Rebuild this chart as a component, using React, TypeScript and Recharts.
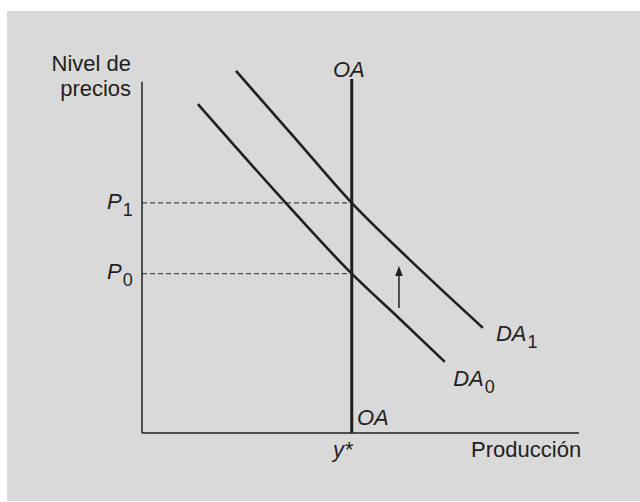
import { ComposedChart, Line, XAxis, YAxis, ReferenceLine, ReferenceDot } from "recharts";

// demanda agregada antes y después del desplazamiento (producción, nivel de precios)
const da0 = [
  { x: 12.8, y: 92.9 },
  { x: 30.4, y: 68.4 },
  { x: 48, y: 45 },
  { x: 59, y: 32.2 },
  { x: 69.3, y: 20.1 },
];
const da1 = [
  { x: 21.5, y: 102.3 },
  { x: 34.8, y: 83.6 },
  { x: 48, y: 65 },
  { x: 61.3, y: 48.9 },
  { x: 78, y: 29.7 },
];

const yStar = 48;
const oaTop = 100;
const yAxisTop = 99.2;
const priceLevels = [
  { name: "P", sub: "0", y: 45 },
  { name: "P", sub: "1", y: 65 },
];
const arrowFrom = { x: 58.8, y: 35.3 };
const arrowTo = { x: 58.8, y: 47.2 };

type Tag = {
  lines: string[];
  sub?: string;
  x: number;
  y: number;
  anchor: "start" | "middle" | "end";
  italic: boolean;
};

const tags: Tag[] = [
  { lines: ["Nivel de", "precios"], x: -2.5, y: 102.3, anchor: "end", italic: false },
  { lines: ["OA"], x: 43.7, y: 100.6, anchor: "start", italic: true },
  { lines: ["OA"], x: 49.2, y: 2.3, anchor: "start", italic: true },
  { lines: ["DA"], sub: "1", x: 81, y: 26, anchor: "start", italic: true },
  { lines: ["DA"], sub: "0", x: 71.2, y: 13.3, anchor: "start", italic: true },
  { lines: ["y*"], x: 43.7, y: -6.8, anchor: "start", italic: true },
  { lines: ["Producción"], x: 100.5, y: -6.8, anchor: "end", italic: false },
  ...priceLevels.map((p) => ({
    lines: [p.name],
    sub: p.sub,
    x: -2.1,
    y: p.y - 1.6,
    anchor: "end" as const,
    italic: true,
  })),
];

const ink = "#231f20";
const font = "'Liberation Sans', Arial, Helvetica, sans-serif";

export default function App() {
  return (
    <div style={{ position: "absolute", left: 0, top: 0, width: 640, height: 502, background: "#fff", overflow: "hidden" }}>
      <div style={{ position: "absolute", left: 7, top: 11, width: 633, height: 490, background: "#d9d9d9" }} />
      <div style={{ position: "absolute", left: 0, top: 0 }}>
        <ComposedChart width={640} height={502} margin={{ top: 61.3, right: 61, bottom: 69, left: 142 }}>
          <XAxis type="number" dataKey="x" domain={[0, 100]} hide />
          <YAxis type="number" dataKey="y" domain={[0, 105]} hide />

          <ReferenceLine segment={[{ x: 0, y: 0 }, { x: 0, y: yAxisTop }]} stroke={ink} strokeWidth={1.5} ifOverflow="visible" />
          <ReferenceLine segment={[{ x: 0, y: 0 }, { x: 100, y: 0 }]} stroke={ink} strokeWidth={1.5} ifOverflow="visible" />

          {priceLevels.map((p) => (
            <ReferenceLine
              key={p.sub}
              segment={[{ x: 0, y: p.y }, { x: yStar, y: p.y }]}
              stroke={ink}
              strokeWidth={1}
              strokeDasharray="5 3"
              ifOverflow="visible"
            />
          ))}

          <ReferenceLine segment={[{ x: yStar, y: 0 }, { x: yStar, y: oaTop }]} stroke={ink} strokeWidth={3} ifOverflow="visible" />

          <Line data={da0} dataKey="y" type="monotone" stroke={ink} strokeWidth={2.6} dot={false} isAnimationActive={false} />
          <Line data={da1} dataKey="y" type="monotone" stroke={ink} strokeWidth={2.6} dot={false} isAnimationActive={false} />

          <ReferenceLine segment={[arrowFrom, { x: arrowTo.x, y: arrowTo.y - 2.5 }]} stroke={ink} strokeWidth={1.5} ifOverflow="visible" />
          <ReferenceDot
            x={arrowTo.x}
            y={arrowTo.y}
            ifOverflow="visible"
            shape={(p: any) => (
              <polygon points={`${p.cx},${p.cy} ${p.cx - 3.8},${p.cy + 10} ${p.cx + 3.8},${p.cy + 10}`} fill={ink} />
            )}
          />

          {tags.map((t, i) => (
            <ReferenceDot
              key={i}
              x={t.x}
              y={t.y}
              ifOverflow="visible"
              shape={(p: any) => (
                <text
                  x={p.cx}
                  y={p.cy}
                  textAnchor={t.anchor}
                  fontFamily={font}
                  fontSize={22}
                  fontStyle={t.italic ? "italic" : "normal"}
                  fill={ink}
                >
                  {t.lines.map((line, j) => (
                    <tspan key={j} x={p.cx} dy={j === 0 ? 0 : 25}>
                      {line}
                    </tspan>
                  ))}
                  {t.sub && (
                    <tspan fontSize={18} dy={7} dx={1} fontStyle="normal">
                      {t.sub}
                    </tspan>
                  )}
                </text>
              )}
            />
          ))}
        </ComposedChart>
      </div>
    </div>
  );
}
